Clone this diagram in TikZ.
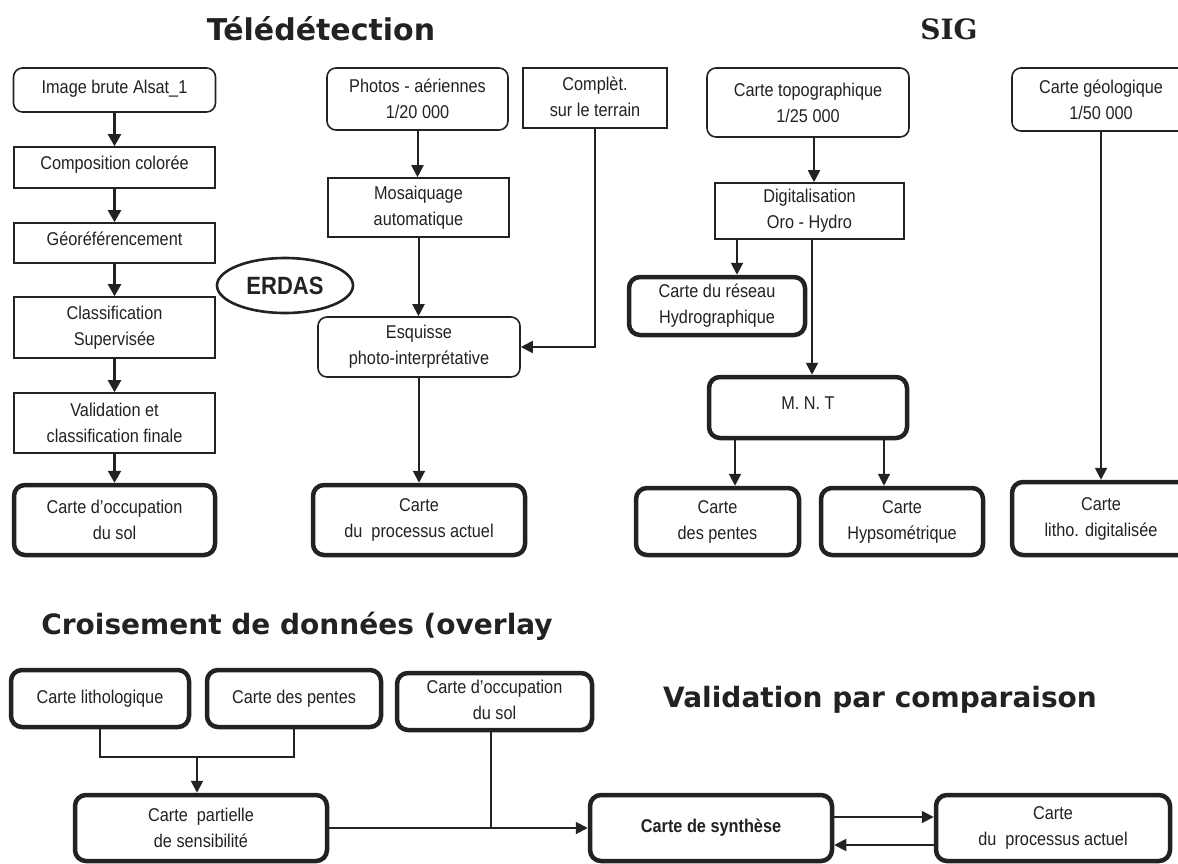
\documentclass[tikz,border=0pt]{standalone}
\usepackage{fontspec}
\setmainfont{Liberation Sans}[FakeStretch=0.88]
\newfontfamily\titlefont{DejaVu Sans}
\newfontfamily\sigfont{DejaVu Serif}
\usetikzlibrary{arrows.meta,shapes.geometric,calc}
\definecolor{ink}{HTML}{222222}
\tikzset{
  sz/.style 2 args={minimum width=#1pt, minimum height=#2pt},
  base/.style={draw=ink, text=ink, align=center, inner sep=1pt,
    font=\fontsize{18.5pt}{26pt}\selectfont},
  sqbox/.style={base, rectangle, line width=1.6pt},
  thinround/.style={base, rectangle, line width=1.6pt, rounded corners=9pt},
  thickround/.style={base, rectangle, line width=4.5pt, rounded corners=11pt},
  arr/.style={draw=ink, line width=2pt, -{Triangle[width=12pt,length=12pt]}},
  arrb/.style={draw=ink, line width=2.4pt, -{Triangle[width=13pt,length=12pt]}},
  conn/.style={draw=ink, line width=2pt},
  thinconn/.style={draw=ink, line width=1.4pt},
  ttl/.style={text=ink, inner sep=0pt, font=\titlefont\bfseries\fontsize{28pt}{32pt}\selectfont},
}
\begin{document}
\begin{tikzpicture}[x=1pt, y=-1pt]
\useasboundingbox (0,0) rectangle (1178,863);
\fill[white] (0,0) rectangle (1178,863);
\clip (0,0) rectangle (1178,863);

% titles
\node[ttl, font=\titlefont\bfseries\fontsize{30pt}{34pt}\selectfont] (tele) at (321,29) {Télédétection};
\node[text=ink, inner sep=0pt, font=\sigfont\bfseries\fontsize{28pt}{32pt}\selectfont] (sig) at (949,29) {SIG};
\node[ttl] (crois) at (297,626) {Croisement de données (overlay};
\node[ttl] (valid) at (880,700) {Validation par comparaison};

% left column
\node[thinround, sz={202}{44}] (img) at (114.5,90) {\raisebox{6pt}{Image brute Alsat\_1}};
\node[sqbox, sz={201}{41}] (comp) at (114.5,167.5) {\raisebox{10pt}{Composition colorée}};
\node[sqbox, sz={201}{40}] (geo) at (114.5,243) {\raisebox{8pt}{Géoréférencement}};
\node[sqbox, sz={201}{61}] (cls) at (114.5,327.5) {Classification\\Supervisée};
\node[sqbox, sz={201}{60}] (val) at (114.5,423) {Validation et\\classification finale};
\node[thickround, sz={201}{70}] (occ) at (114.5,520) {Carte d'occupation\\du sol};
\node[draw=ink, line width=2.6pt, ellipse, minimum width=136pt, minimum height=55pt, inner sep=0pt,
  text=ink, font=\fontsize{25pt}{28pt}\selectfont\bfseries] (erdas) at (285,285.5) {ERDAS};

\draw[arrb] (img) -- (comp);
\draw[arrb] (comp) -- (geo);
\draw[arrb] (geo) -- (cls);
\draw[arrb] (cls) -- (val);
\draw[arrb] (val) -- (occ);

% middle column
\node[thinround, sz={181}{62}] (pho) at (417.5,99) {Photos - aériennes\\1/20 000};
\node[sqbox, sz={144}{60}] (cpl) at (595,98) {\raisebox{6pt}{\begin{tabular}{@{}c@{}}Complèt.\\sur le terrain\end{tabular}}};
\node[sqbox, sz={181}{59}] (mos) at (418.5,207.5) {Mosaiquage\\automatique};
\node[thinround, sz={202}{60}] (esq) at (419,347) {Esquisse\\photo-interprétative};
\node[thickround, sz={212}{70}] (proc) at (419,520) {Carte\\du\ \ processus actuel};

\draw[arr] (pho) -- (pho |- mos.north);
\draw[arr] (mos) -- (mos |- esq.north);
\draw[arr] (cpl.south) |- (esq.east);
\draw[arr] (esq) -- (proc);

% right column
\node[thinround, sz={202}{69}] (topo) at (808,102.5) {Carte topographique\\1/25 000};
\node[sqbox, sz={189}{56}] (dig) at (809.5,211) {Digitalisation\\Oro - Hydro};
\node[thickround, sz={176}{58}] (res) at (717,306) {Carte du réseau\\Hydrographique};
\node[thickround, sz={198}{61}] (mnt) at (808,407.5) {\raisebox{8pt}{M. N. T}};
\node[thickround, sz={163}{67}] (pen) at (717.5,521.5) {Carte\\des pentes};
\node[thickround, sz={162}{67}] (hyp) at (902,521.5) {Carte\\Hypsométrique};
\node[thinround, sz={178}{63}] (geol) at (1101,99.5) {Carte géologique\\1/50 000};
\node[thickround, sz={178}{73}] (lit) at (1101,518.5) {Carte\\litho. digitalisée};

\coordinate (xtd) at (814,0);
\coordinate (xres) at (737,0);
\coordinate (xmnt) at (812,0);
\coordinate (xpen) at (735,0);
\coordinate (xhyp) at (884,0);
\draw[arr] (topo.south -| xtd) -- (dig.north -| xtd);
\draw[arr] (dig.south -| xres) -- (res.north -| xres);
\draw[arr] (dig.south -| xmnt) -- (mnt.north -| xmnt);
\draw[arr] (mnt.south -| xpen) -- (pen.north -| xpen);
\draw[arr] (mnt.south -| xhyp) -- (hyp.north -| xhyp);
\draw[arr] (geol) -- (lit);

% bottom
\node[thickround, sz={178}{57}] (lith) at (100,698.5) {Carte lithologique};
\node[thickround, sz={174}{57}] (pen2) at (294,698.5) {Carte des pentes};
\node[thickround, sz={195}{57}] (occ2) at (494.5,701.5) {\raisebox{6pt}{\begin{tabular}{@{}c@{}}Carte d'occupation\\du sol\end{tabular}}};
\node[thickround, sz={252}{66}] (part) at (201,828) {Carte\ \ partielle\\de sensibilité};
\node[thickround, sz={242}{66}] (syn) at (711,828) {\bfseries Carte de synthèse};
\node[thickround, sz={234}{66}] (proc2) at (1053,828) {Carte\\du\ \ processus actuel};

\coordinate (jy) at (0,757);
\coordinate (xocc) at (491,0);
\draw[thinconn] (lith.south) -- (lith.south |- jy) -- (pen2.south |- jy) -- (pen2.south);
\coordinate (j1) at ($(lith.south |- jy)!0.5!(pen2.south |- jy)$);
\draw[arr] (j1) -- (j1 |- part.north);
\draw[arr] (part.east) -- (syn.west);
\draw[thinconn] (occ2.south -| xocc) -- (part.east -| xocc);
\draw[arr] ([yshift=11pt]syn.east) -- ([yshift=11pt]proc2.west);
\draw[arr] ([yshift=-17pt]proc2.west) -- ([yshift=-17pt]syn.east);
\end{tikzpicture}
\end{document}
